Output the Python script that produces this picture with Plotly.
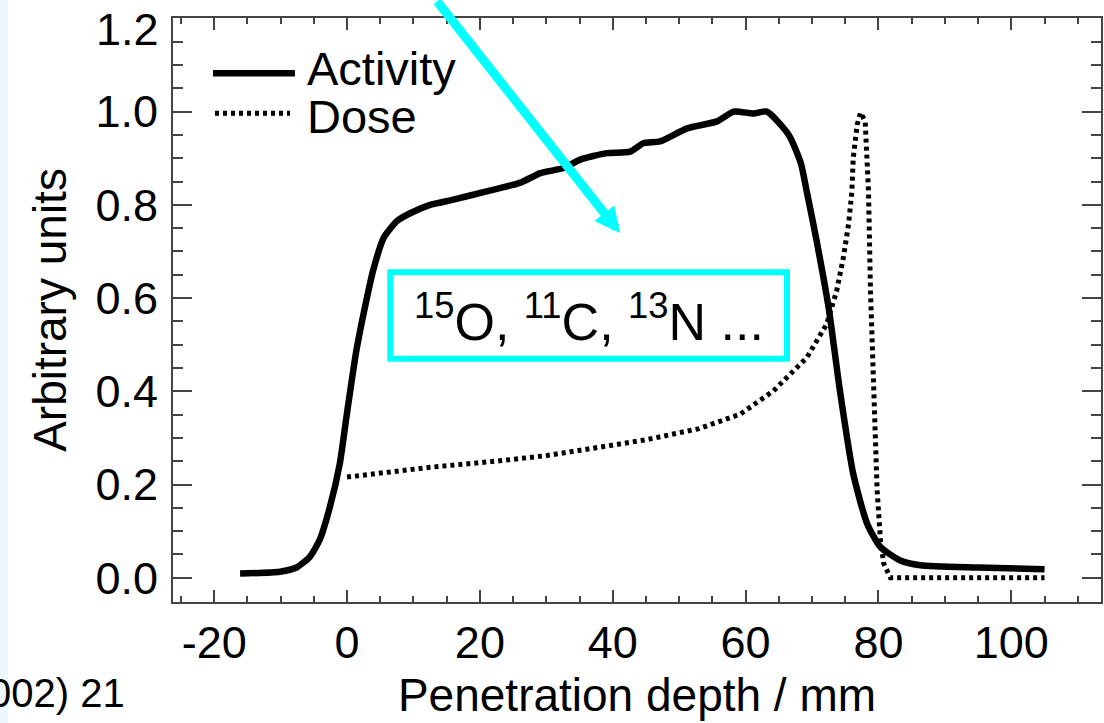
import plotly.graph_objects as go

# ---- data ----
activity_x = [-16.1, -10.1, -7.6, -5.6, -4.1, -2.6, -1.1, -0.1, 1.4, 3.0, 3.9, 5.5, 7.5, 9.5,
              12.5, 16.0, 21.0, 26.0, 29.1, 32.6, 35.1, 39.1, 42.6, 44.6, 47.1, 51.2, 55.7,
              58.2, 61.2, 63.2, 66.5, 68.3, 69.2, 70.7, 72.5, 74.2, 76.2, 78.3, 80.3, 83.3,
              86.3, 95.0, 105.0]
activity_y = [0.009, 0.013, 0.022, 0.045, 0.082, 0.151, 0.244, 0.344, 0.487, 0.601, 0.658,
              0.729, 0.765, 0.782, 0.800, 0.811, 0.829, 0.847, 0.868, 0.879, 0.897, 0.911,
              0.914, 0.932, 0.936, 0.964, 0.979, 1.000, 0.996, 1.000, 0.950, 0.890, 0.829,
              0.722, 0.579, 0.401, 0.223, 0.116, 0.066, 0.037, 0.027, 0.022, 0.018]

dose_x = [0.0, 8.0, 12.5, 23.0, 30.0, 38.0, 45.0, 53.0, 59.2, 64.2, 69.2, 72.2, 73.7, 74.7,
          75.5, 76.0, 76.2, 76.8, 77.3, 78.0, 78.5, 78.8, 79.3, 79.8, 80.3, 80.8, 81.8, 105.0]
dose_y = [0.216, 0.230, 0.237, 0.251, 0.262, 0.280, 0.296, 0.320, 0.351, 0.401, 0.472,
          0.544, 0.615, 0.686, 0.758, 0.829, 0.900, 0.972, 0.998, 0.979, 0.829, 0.615,
          0.400, 0.187, 0.080, 0.030, 0.000, 0.000]

x_tickvals = [-20, 0, 20, 40, 60, 80, 100]
x_ticktext = ["-20", "0", "20", "40", "60", "80", "100"]
y_tickvals = [0.0, 0.2, 0.4, 0.6, 0.8, 1.0, 1.2]
y_ticktext = ["0.0", "0.2", "0.4", "0.6", "0.8", "1.0", "1.2"]

series_names = ["Activity", "Dose"]
isotope_label = "<sup>15</sup>O, <sup>11</sup>C, <sup>13</sup>N ..."
citation_text = "002) 21"

# ---- layout geometry (pixels) ----
W, H = 1104, 723
ML, MR, MT, MB = 173, 3, 18, 121
PW, PH = W - ML - MR, H - MT - MB


def px(x):
    return (x - ML) / PW


def py(y):
    return (H - MB - y) / PH


FONT = "Liberation Sans, Arial, Helvetica, sans-serif"
FRAME = "#444444"
CYAN = "#00FFFF"

fig = go.Figure()
fig.add_trace(go.Scatter(x=activity_x, y=activity_y, mode="lines", name=series_names[0],
                         line=dict(color="black", width=6.5, shape="spline", smoothing=0.6),
                         showlegend=False))
fig.add_trace(go.Scatter(x=dose_x, y=dose_y, mode="lines", name=series_names[1],
                         line=dict(color="black", width=5, dash="4px,4px"), showlegend=False))

shapes = [
    # light tint on the left edge of the page
    dict(type="rect", xref="paper", yref="paper", x0=px(0), x1=px(8), y0=py(H), y1=py(0),
         fillcolor="#EEF8FC", line=dict(width=0), layer="below"),
    # cyan box
    dict(type="rect", xref="paper", yref="paper", x0=px(390.3), x1=px(787), y0=py(358.7),
         y1=py(272.3), line=dict(color=CYAN, width=6), fillcolor="rgba(0,0,0,0)"),
    # legend samples
    dict(type="line", xref="paper", yref="paper", x0=px(213), x1=px(295), y0=py(73.3),
         y1=py(73.3), line=dict(color="black", width=6.5)),
    dict(type="line", xref="paper", yref="paper", x0=px(215), x1=px(290), y0=py(113.3),
         y1=py(113.3), line=dict(color="black", width=5, dash="4px,4px")),
]

# the top tick label sits slightly below its tick (clamped inside the page)
shown_y_text = y_ticktext[:-1] + [""]

annotations = [
    dict(xref="paper", yref="paper", x=px(161), y=py(29), xanchor="right", yanchor="middle",
         text=y_ticktext[-1], showarrow=False, font=dict(family=FONT, size=45, color="black")),
    dict(xref="paper", yref="paper", x=px(305), y=py(68), xanchor="left", yanchor="middle",
         text=series_names[0], showarrow=False, font=dict(family=FONT, size=47, color="black")),
    dict(xref="paper", yref="paper", x=px(305), y=py(116), xanchor="left", yanchor="middle",
         text=series_names[1], showarrow=False, font=dict(family=FONT, size=47, color="black")),
    dict(xref="paper", yref="paper", x=px(588.5), y=py(318), xanchor="center", yanchor="middle",
         text=isotope_label, showarrow=False, font=dict(family=FONT, size=52, color="black")),
    dict(xref="paper", yref="paper", x=px(127), y=py(693), xanchor="right", yanchor="middle",
         text=citation_text, showarrow=False, font=dict(family=FONT, size=40, color="black")),
    # cyan arrow
    dict(xref="paper", yref="paper", x=px(620), y=py(233), ax=-184, ay=-273, text="",
         showarrow=True, arrowhead=2, arrowsize=0.56, arrowwidth=9, arrowcolor=CYAN, standoff=0),
]

fig.update_layout(
    width=W, height=H,
    margin=dict(l=ML, r=MR, t=MT, b=MB, autoexpand=False),
    paper_bgcolor="white", plot_bgcolor="white",
    font=dict(family=FONT, color="black"),
    shapes=shapes, annotations=annotations,
    showlegend=False,
)

fig.update_xaxes(
    range=[-26.2, 113.5], showgrid=False, zeroline=False, automargin=False,
    showline=True, linecolor=FRAME, linewidth=2, mirror="ticks",
    tickmode="array", tickvals=x_tickvals, ticktext=x_ticktext,
    ticks="inside", ticklen=12, tickwidth=2, tickcolor=FRAME,
    minor=dict(ticks="inside", dtick=5, tick0=0, ticklen=6, tickwidth=2, tickcolor=FRAME,
               showgrid=False),
    tickfont=dict(family=FONT, size=45, color="black"),
    ticklabelstandoff=0, ticklabeloverflow="allow",
    title=dict(text="Penetration depth / mm", font=dict(family=FONT, size=46, color="black"),
               standoff=12),
)
fig.update_yaxes(
    range=[-0.052, 1.2008], showgrid=False, zeroline=False, automargin=False,
    showline=True, linecolor=FRAME, linewidth=2, mirror="ticks",
    tickmode="array", tickvals=y_tickvals, ticktext=shown_y_text,
    ticks="inside", ticklen=19, tickwidth=2, tickcolor=FRAME,
    minor=dict(ticks="inside", dtick=0.05, tick0=0, ticklen=10, tickwidth=2, tickcolor=FRAME,
               showgrid=False),
    tickfont=dict(family=FONT, size=45, color="black"),
    ticklabelstandoff=4, ticklabeloverflow="allow",
    title=dict(text="Arbitrary units", font=dict(family=FONT, size=46, color="black"),
               standoff=14),
)

fig.write_html("out.html")
